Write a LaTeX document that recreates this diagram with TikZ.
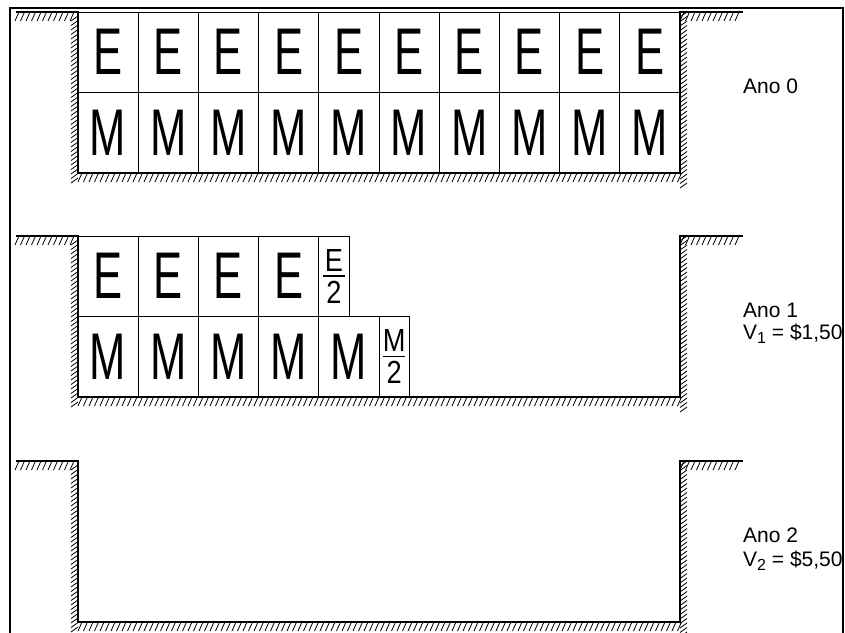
\documentclass[tikz,border=0pt]{standalone}
\usepackage{graphicx,tikz}
\usepackage{fontspec}
\setmainfont{Liberation Sans}

\newcommand{\bigcell}[1]{{\fontsize{66}{66}\selectfont\scalebox{0.66}[1]{#1}}}
\newcommand{\halfcell}[1]{\vbox{\fontsize{32}{32}\selectfont
	\hbox to 22pt{\hss\scalebox{0.85}[1]{#1}\hss}\kern4pt\hrule height 1.2pt\kern4pt
	\hbox to 22pt{\hss\scalebox{0.85}[1]{2}\hss}}}
\newcommand{\vsub}[1]{\raisebox{-4pt}{\fontsize{16}{16}\selectfont #1}}
\newcommand{\hatchrow}[3]{\pgfmathtruncatemacro{\hn}{(#2-#1)/5.5}
	\foreach \k in {0,...,\hn} \draw[hatch] ({#1+5.5*\k},{#3}) -- ++(-4,9);}
\newcommand{\hatchcol}[4]{\pgfmathtruncatemacro{\hn}{(#3-#2)/4.5}
	\foreach \k in {0,...,\hn} \draw[hatch] ({#1},{#2+4.5*\k}) -- ++({7*#4},{-5*#4});}

\begin{document}
\begin{tikzpicture}[x=1pt,y=-1pt,
	pit/.style={line width=1.5pt},
	hatch/.style={line width=0.8pt},
	frame/.style={line width=2.5pt},
	cell/.style={draw,line width=1pt,minimum width=60.2pt,minimum height=80.5pt,inner sep=0pt,outer sep=0pt,anchor=north west},
	half/.style={cell,minimum width=30.5pt},
	lbl/.style={anchor=base west,inner sep=0pt,font=\fontsize{21}{21}\selectfont}]
			\useasboundingbox (0,0) rectangle (845,632);
			\draw[frame] (10,640) -- (10,8) -- (843,8) -- (843,640);
			\foreach \t in {12,236,461} {
				\draw[pit] (16,\t) -- (78,\t) -- (78,{\t+161}) -- (680,{\t+161}) -- (680,\t) -- (743,\t);
				\hatchrow{19}{78}{\t}
				\hatchrow{684}{743}{\t}
				\hatchrow{82}{684}{\t+161}
				\hatchcol{78}{\t+4}{\t+161}{-1}
				\hatchcol{680}{\t+5}{\t+166}{1}
			}
			\foreach \i in {1,...,10} {
				\node[cell] (e\i) at ({78+60.2*(\i-1)},12) {\bigcell{E}};
				\node[cell] (m\i) at ({78+60.2*(\i-1)},92.5) {\bigcell{M}};
			}
			\foreach \i in {1,...,4}
				\node[cell] (ea\i) at ({78+60.2*(\i-1)},236) {\bigcell{E}};
			\node[half] (eh) at (ea4.north east) {\halfcell{E}};
			\foreach \i in {1,...,5}
				\node[cell] (ma\i) at ({78+60.2*(\i-1)},316.5) {\bigcell{M}};
			\node[half] (mh) at (ma5.north east) {\halfcell{M}};
			\node[lbl] (ano0) at (743,93) {Ano 0};
			\node[lbl] (ano1) at (743,317) {Ano 1};
			\node[lbl] (val1) at (743,339) {V\vsub{1} = \$1,50};
			\node[lbl] (ano2) at (743,542) {Ano 2};
			\node[lbl] (val2) at (743,566) {V\vsub{2} = \$5,50};
\end{tikzpicture}
\end{document}
